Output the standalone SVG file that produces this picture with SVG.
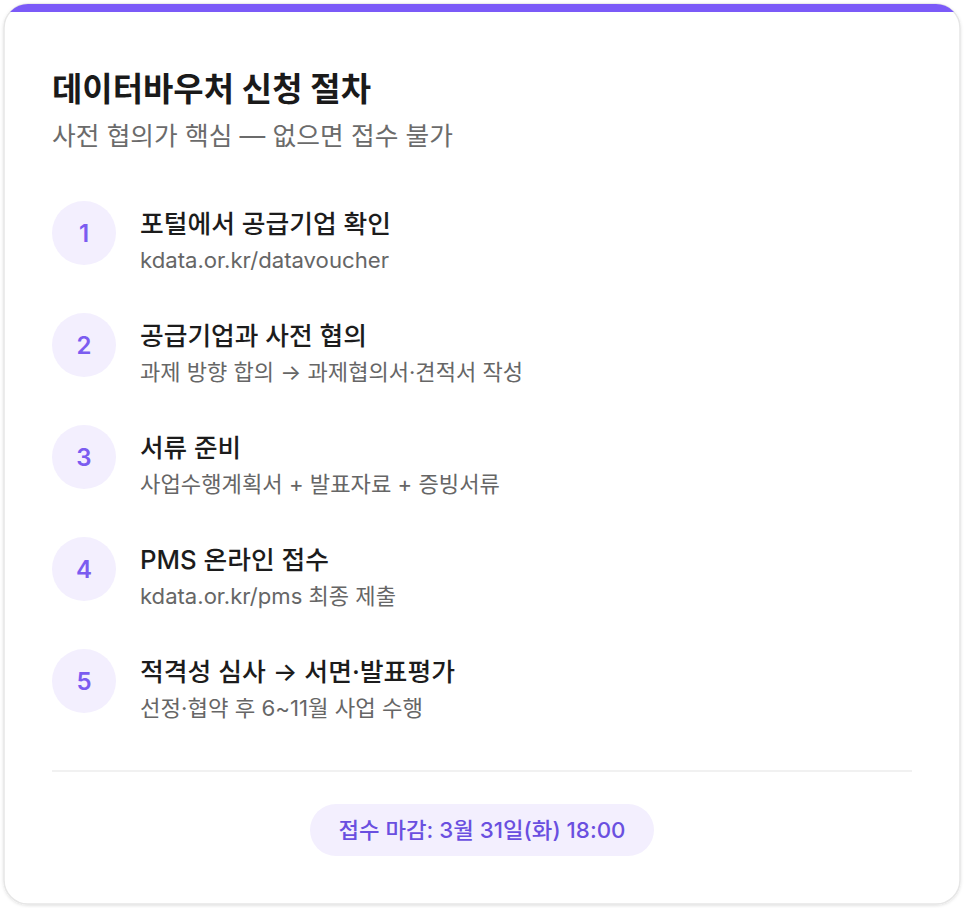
<svg xmlns="http://www.w3.org/2000/svg" width="964" height="908" viewBox="0 0 964 908">
<defs>
<style>
.f{font-family:Inter,"Noto Sans CJK KR","Noto Sans",sans-serif}
.title{font-size:33px;font-weight:700;fill:#1a1a1a}
.sub{font-size:25.5px;font-weight:400;fill:#6b6b6b}
.num{font-size:24px;font-weight:600;fill:#7b5cf0;text-anchor:middle}
.st{font-size:25.5px;font-weight:500;fill:#1c1c1c}
.ss{font-size:21.5px;font-weight:400;fill:#666}
.badge{fill:#f3effe}
.pill{font-size:22px;font-weight:500;fill:#6a4fe0;text-anchor:middle}
</style>
<clipPath id="card"><rect x="4" y="4" width="956" height="900" rx="24"/></clipPath>
<filter id="sh" x="-5%" y="-5%" width="110%" height="110%"><feDropShadow dx="0" dy="1" stdDeviation="1.5" flood-color="#000" flood-opacity="0.12"/></filter>
</defs>
<rect width="964" height="908" fill="#fff"/>
<g id="card-bg">
<rect x="4" y="4" width="956" height="900" rx="24" fill="#fff" stroke="#e6e6e6" stroke-width="1.5" filter="url(#sh)"/>
<rect x="4" y="4" width="956" height="8" fill="#7b5af8" clip-path="url(#card)"/>
</g>
<g id="header" class="f">
<text x="52" y="101" class="title" textLength="319" lengthAdjust="spacingAndGlyphs">데이터바우처 신청 절차</text>
<text x="52" y="145" class="sub" textLength="401" lengthAdjust="spacingAndGlyphs">사전 협의가 핵심 — 없으면 접수 불가</text>
</g>
<g id="connectors"></g>
<g id="step1" class="f">
<circle cx="84" cy="233" r="32" class="badge"/>
<text x="84" y="242" class="num">1</text>
<text x="140" y="233" class="st" textLength="251" lengthAdjust="spacingAndGlyphs">포털에서 공급기업 확인</text>
<text x="140" y="268" class="ss" textLength="249" lengthAdjust="spacingAndGlyphs">kdata.or.kr/datavoucher</text>
</g>
<g id="step2" class="f">
<circle cx="84" cy="345" r="32" class="badge"/>
<text x="84" y="354" class="num">2</text>
<text x="140" y="345" class="st" textLength="227" lengthAdjust="spacingAndGlyphs">공급기업과 사전 협의</text>
<text x="140" y="380" class="ss" textLength="383" lengthAdjust="spacingAndGlyphs">과제 방향 합의 → 과제협의서·견적서 작성</text>
</g>
<g id="step3" class="f">
<circle cx="84" cy="457" r="32" class="badge"/>
<text x="84" y="466" class="num">3</text>
<text x="140" y="457" class="st" textLength="101" lengthAdjust="spacingAndGlyphs">서류 준비</text>
<text x="140" y="492" class="ss" textLength="360" lengthAdjust="spacingAndGlyphs">사업수행계획서 + 발표자료 + 증빙서류</text>
</g>
<g id="step4" class="f">
<circle cx="84" cy="569" r="32" class="badge"/>
<text x="84" y="578" class="num">4</text>
<text x="140" y="569" class="st" textLength="189" lengthAdjust="spacingAndGlyphs">PMS 온라인 접수</text>
<text x="140" y="604" class="ss" textLength="256" lengthAdjust="spacingAndGlyphs">kdata.or.kr/pms 최종 제출</text>
</g>
<g id="step5" class="f">
<circle cx="84" cy="681" r="32" class="badge"/>
<text x="84" y="690" class="num">5</text>
<text x="140" y="681" class="st" textLength="315" lengthAdjust="spacingAndGlyphs">적격성 심사 → 서면·발표평가</text>
<text x="140" y="716" class="ss" textLength="283" lengthAdjust="spacingAndGlyphs">선정·협약 후 6~11월 사업 수행</text>
</g>
<g id="footer" class="f">
<line x1="52" y1="771" x2="912" y2="771" stroke="#ececec" stroke-width="1.5"/>
<rect x="310" y="804" width="344" height="52" rx="26" class="badge"/>
<text x="482" y="838" class="pill" textLength="287" lengthAdjust="spacingAndGlyphs">접수 마감: 3월 31일(화) 18:00</text>
</g>
</svg>
